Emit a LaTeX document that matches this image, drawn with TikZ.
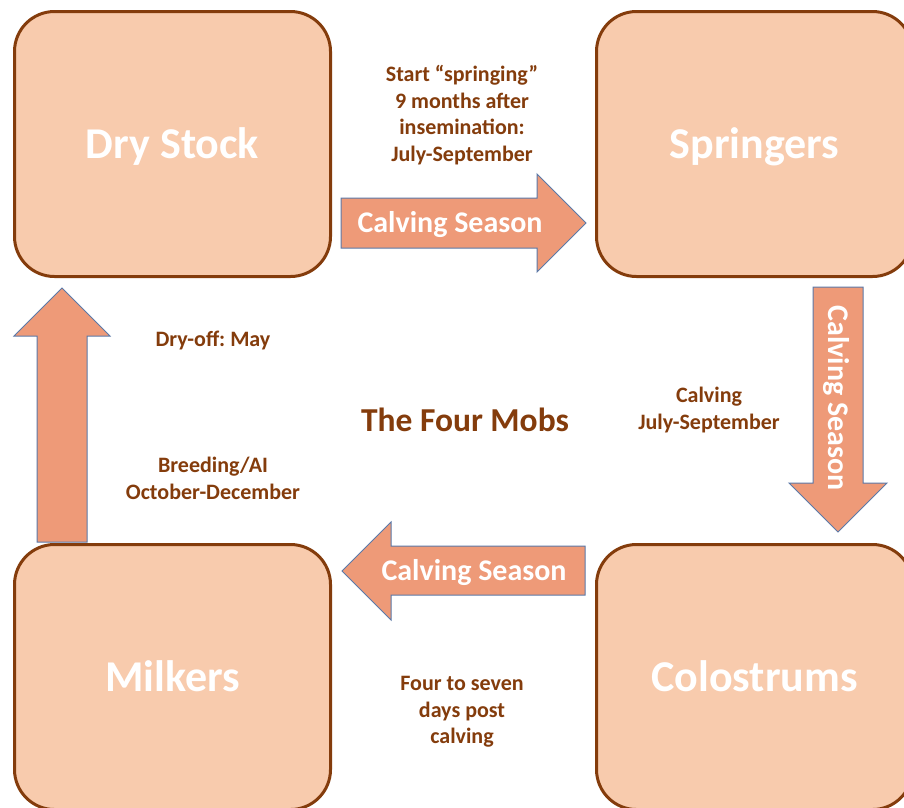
\documentclass[tikz,border=0pt]{standalone}
\usepackage{fontspec}
\setmainfont{Carlito}
\frenchspacing
\definecolor{boxfill}{HTML}{F8CBAD}
\definecolor{boxline}{HTML}{843C0C}
\definecolor{arrfill}{HTML}{EE9A78}
\definecolor{arrline}{HTML}{5B79A8}
\definecolor{txtbrown}{HTML}{843C0C}
\tikzset{
  mob/.style={draw=boxline, line width=3pt, fill=boxfill, rounded corners=40pt,
    minimum width=316pt, minimum height=265pt, text=white,
    text height=28pt, text depth=0pt,
    font=\fontsize{44}{52}\selectfont\bfseries},
  blockarr/.style={draw=arrline, line width=1pt, fill=arrfill},
  arrtext/.style={text=white, font=\fontsize{30}{34}\selectfont\bfseries, inner sep=0pt,
    text height=19pt, text depth=0pt},
  note/.style={text=txtbrown, align=center, font=\fontsize{22}{26.7}\selectfont\bfseries, inner sep=0pt},
  title/.style={text=txtbrown, font=\fontsize{33.5}{38}\selectfont\bfseries, inner sep=0pt}
}
\begin{document}
\begin{tikzpicture}[x=1pt,y=-1pt]
\useasboundingbox (0,0) rectangle (904,807);
\clip (0,0) rectangle (904,807);
\fill[white] (0,0) rectangle (904,807);
% boxes
\node[mob] (dry) at (172.5,144) {Dry Stock};
\node[mob] (spr) at (754.5,144) {Springers};
\node[mob] (mil) at (172.5,677) {Milkers};
\node[mob] (col) at (754.5,677) {Colostrums};
% block arrows
\draw[blockarr] (341,198) -- (537,198) -- (537,174) -- (586,223) -- (537,272) -- (537,248) -- (341,248) -- cycle;
\node[arrtext] (a1) at (450,223) {Calving Season};
\draw[blockarr] (813,287) -- (863,287) -- (863,483) -- (887,483) -- (838,532) -- (789,483) -- (813,483) -- cycle;
\node[arrtext, rotate=-90] (a2) at (838,398) {Calving Season};
\draw[blockarr] (585,546) -- (391,546) -- (391,522) -- (342,571) -- (391,620) -- (391,595) -- (585,595) -- cycle;
\node[arrtext] (a3) at (474,571) {Calving Season};
\draw[blockarr] (37,542) -- (37,336) -- (14,336) -- (62,288) -- (110,336) -- (87,336) -- (87,542) -- cycle;
% labels
\node[note] (n1) at (462,115) {Start “springing”\\9 months after\\insemination:\\July-September};
\node[note] (n2) at (213,340) {Dry-off: May};
\node[title] (t) at (465,420) {The Four Mobs};
\node[note] (n3) at (709,410) {Calving\\July-September};
\node[note] (n4) at (213,478) {Breeding/AI\\October-December};
\node[note] (n5) at (462,712) {Four to seven\\days post\\calving};
\end{tikzpicture}
\end{document}
